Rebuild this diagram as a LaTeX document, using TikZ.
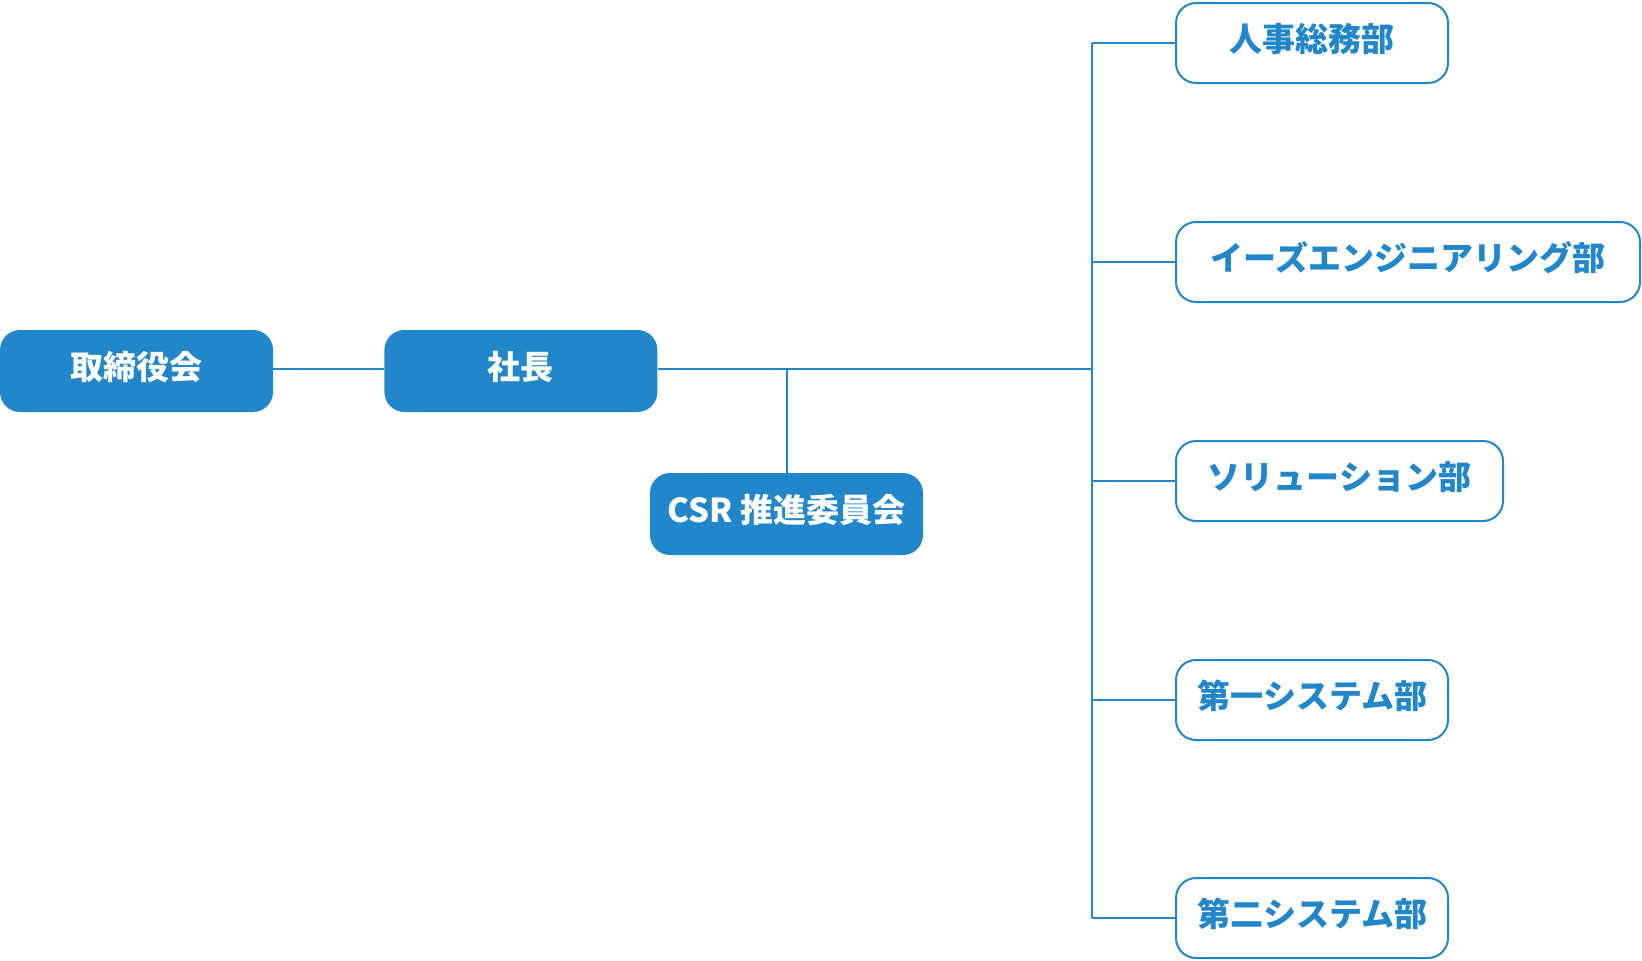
\documentclass[tikz,border=0pt]{standalone}
\usepackage{fontspec}
\setmainfont{Noto Sans CJK JP}
\usetikzlibrary{positioning}
\definecolor{orgblue}{RGB}{33,134,202}

\begin{document}
\begin{tikzpicture}[
  x=1pt, y=-1pt,
  top/.style={rectangle, rounded corners=20pt, fill=orgblue, text=white, minimum width=273pt, minimum height=82pt, font=\fontsize{33}{38}\selectfont\bfseries, text height=20pt, text depth=3pt, inner sep=0pt},
  dept/.style={rectangle, rounded corners=20pt, draw=orgblue, fill=white, text=orgblue, line width=2pt, minimum width=272pt, minimum height=80pt, font=\fontsize{33}{38}\selectfont\bfseries, text height=20pt, text depth=3pt, inner sep=0pt, anchor=west},
  link/.style={draw=orgblue, line width=2pt}
]
\useasboundingbox (0,0) rectangle (1642,961);

\node[top] (board) at (136.5,371) {取締役会};
\node[top, right=111pt of board] (president) {社長};
\node[top] (csr) at (786.5,514) {CSR 推進委員会};

\node[dept] (hr) at (1175,43) {人事総務部};
\node[dept, minimum width=464pt] (eng) at (1175,262) {イーズエンジニアリング部};
\node[dept, minimum width=327pt] (sol) at (1175,481) {ソリューション部};
\node[dept] (sys1) at (1175,700) {第一システム部};
\node[dept] (sys2) at (1175,918) {第二システム部};

\coordinate (spine) at (1092,369);

\draw[link] (board.east |- spine) -- (president.west |- spine);
\draw[link] (president.east |- spine) -- (spine);
\draw[link] (csr.north) -- (csr.north |- spine);
\draw[link] (spine |- hr) -- (spine |- sys2);
\foreach \d in {hr,eng,sol,sys1,sys2}
  \draw[link] (spine |- \d) -- (\d.west);
\end{tikzpicture}
\end{document}
